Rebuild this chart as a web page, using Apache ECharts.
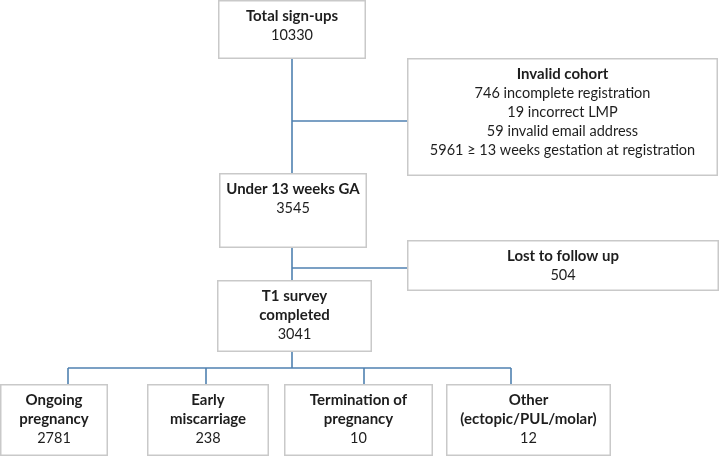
<!DOCTYPE html>
<html>
<head>
<meta charset="utf-8">
<script src="https://cdn.jsdelivr.net/npm/echarts@6/dist/echarts.min.js"></script>
<style>html,body{margin:0;padding:0;background:#fff}#c{width:720px;height:458px}</style>
</head>
<body>
<div id="c"></div>
<script>
// ---- data ----
const titles = ['Total sign-ups', 'Invalid cohort', 'Under 13 weeks GA', 'Lost to follow up',
  'T1 survey\ncompleted', 'Ongoing\npregnancy', 'Early\nmiscarriage', 'Termination of\npregnancy',
  'Other\n(ectopic/PUL/molar)'];
const counts = [10330, null, 3545, 504, 3041, 2781, 238, 10, 12];
const invalidReasons = ['746 incomplete registration', '19 incorrect LMP',
  '59 invalid email address', '5961 \u2265 13 weeks gestation at registration'];

// ---- layout (axis units) ----
const boxes = [
  [218, 0, 366, 59], [407, 58, 718, 176], [219, 173, 367, 248], [407, 240, 719, 291],
  [217, 280, 372, 352], [0, 384, 108, 456], [147, 384, 269, 456], [284, 384, 433, 456],
  [446, 384, 611, 456]
];
const connectors = [
  [[292, 59], [292, 173]], [[292, 121], [407, 121]],
  [[292, 248], [292, 280]], [[292, 268], [407, 268]],
  [[292, 352], [292, 368]], [[68, 368], [511, 368]],
  [[68, 368], [68, 384]], [[206, 368], [206, 384]], [[364, 368], [364, 384]], [[511, 368], [511, 384]]
];

const FONT = 'Lato, "Open Sans", sans-serif';
const boxData = titles.map((t, i) => {
  const lines = t.split('\n').map(s => ({ s, bold: true }));
  if (i === 1) invalidReasons.forEach(r => lines.push({ s: r, bold: false }));
  if (counts[i] != null) lines.push({ s: String(counts[i]), bold: false });
  return { value: boxes[i], lines };
});

const chart = echarts.init(document.getElementById('c'), null, { renderer: 'canvas' });
chart.setOption({
  animation: false,
  grid: { left: 0, right: 0, top: 0, bottom: 0 },
  xAxis: { type: 'value', min: 0, max: 720, show: false },
  yAxis: { type: 'value', min: 0, max: 458, inverse: true, show: false },
  series: [
    {
      type: 'custom',
      data: connectors.map(c => ({ value: [c[0][0], c[0][1], c[1][0], c[1][1]] })),
      renderItem: (params, api) => {
        const p0 = api.coord([api.value(0), api.value(1)]);
        const p1 = api.coord([api.value(2), api.value(3)]);
        return { type: 'line', shape: { x1: p0[0], y1: p0[1], x2: p1[0], y2: p1[1] },
          style: { stroke: '#4f81b0', lineWidth: 1.6 } };
      },
      silent: true, z: 1
    },
    {
      type: 'custom',
      data: boxData,
      renderItem: (params, api) => {
        const d = boxData[params.dataIndex];
        const a = api.coord([api.value(0), api.value(1)]);
        const b = api.coord([api.value(2), api.value(3)]);
        const x0 = Math.round(a[0]) + 0.75, y0 = Math.round(a[1]) + 0.75;
        const w = Math.round(b[0]) - Math.round(a[0]) - 1.5, h = Math.round(b[1]) - Math.round(a[1]) - 1.5;
        const cx = (a[0] + b[0]) / 2;
        const children = [{ type: 'rect', shape: { x: x0, y: y0, width: w, height: h },
          style: { fill: '#fff', stroke: '#c9c9c9', lineWidth: 1.5 } }];
        d.lines.forEach((ln, k) => {
          children.push({ type: 'text', style: {
            text: ln.s, x: cx, y: a[1] + 16 + k * 19, align: 'center', verticalAlign: 'middle',
            fontFamily: FONT, fontSize: ln.bold ? 15 : 14.5, fontWeight: ln.bold ? 'bold' : 'normal', fill: '#1e1e1e' } });
        });
        return { type: 'group', children };
      },
      silent: true, z: 2
    }
  ]
});
</script>
</body>
</html>
